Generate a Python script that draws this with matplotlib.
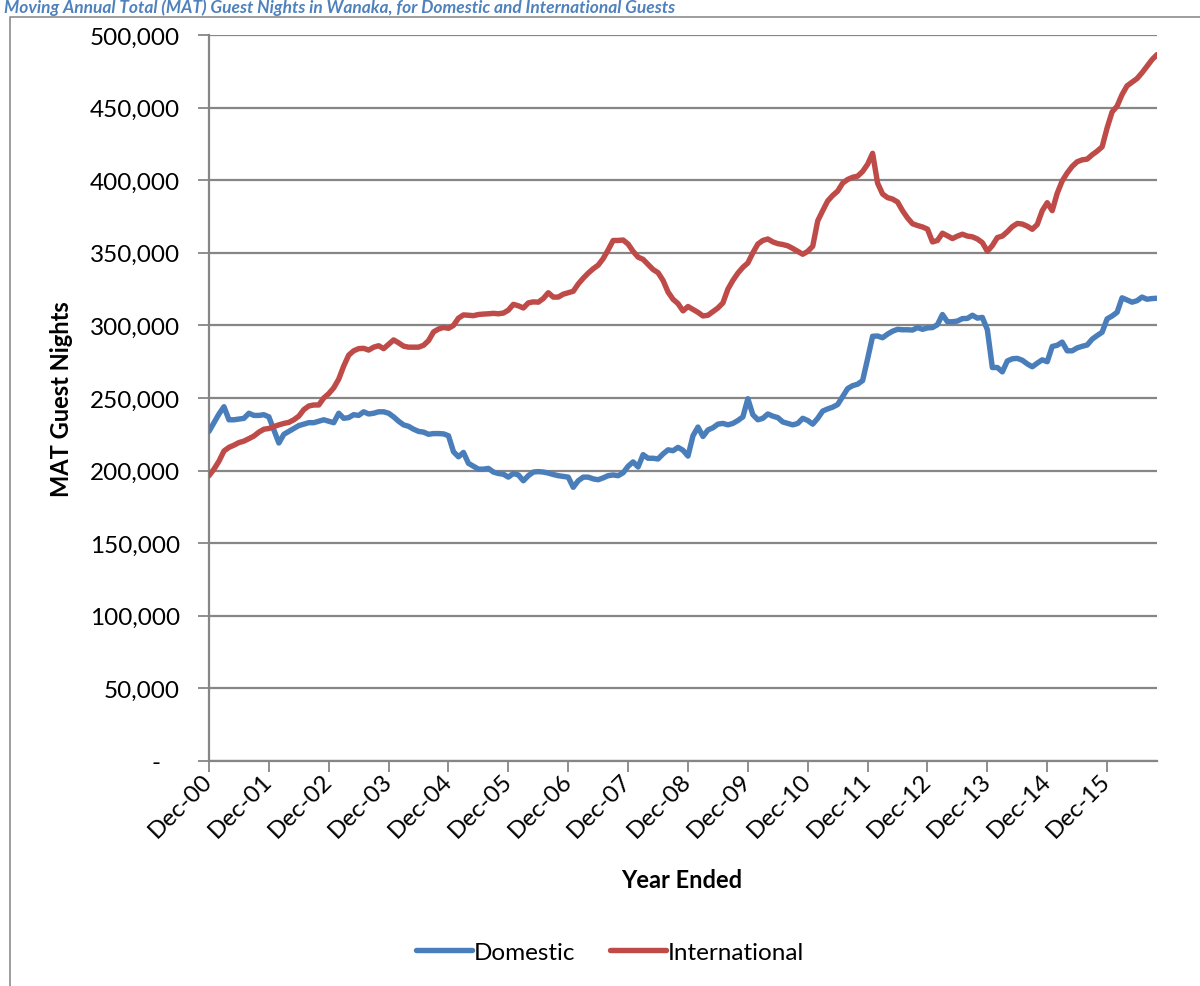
import matplotlib
matplotlib.use("Agg")
import matplotlib.pyplot as plt
import matplotlib.transforms as mtransforms
from matplotlib.lines import Line2D
from matplotlib.ticker import FuncFormatter
import numpy as np
import pandas as pd

# Monthly year-ended periods, Dec 2000 to Oct 2016
months = pd.date_range("2000-12-01", periods=191, freq="MS")

domestic = [
    227000, 233000, 239000, 244000, 235000, 235000, 235500, 236000, 239500, 238000, 238000, 238500,
    237000, 228000, 219000, 225000, 227000, 229000, 231000, 232000, 233000, 233000, 234000, 235000,
    234000, 233000, 239500, 236000, 236500, 238500, 238000, 240500, 239000, 239500, 240500, 240500,
    239500, 237000, 234000, 231500, 230500, 228500, 227000, 226500, 225000, 225500, 225500, 225300,
    224000, 213000, 209500, 212500, 205000, 203000, 201000, 201000, 201500, 199000, 198000, 197500,
    195500, 198000, 197000, 193000, 196500, 199000, 199300, 199000, 198300, 197300, 196500, 196000,
    195500, 188500, 193000, 195500, 195500, 194300, 193700, 195000, 196500, 197000, 196500, 198500,
    203000, 206000, 202500, 211000, 208500, 208500, 208000, 211500, 214300, 213700, 216000, 214000,
    210000, 224000, 230000, 223500, 228000, 229500, 232000, 232500, 231500, 232500, 234500, 237000,
    249500, 238500, 235000, 236000, 239000, 237500, 236500, 233500, 232500, 231500, 232500, 236000,
    234500, 232000, 236000, 241000, 242500, 243700, 245500, 251000, 256500, 258500, 259500, 262000,
    277000, 292500, 292700, 291500, 294000, 296000, 297300, 297000, 297000, 296800, 298500, 297300,
    298300, 298500, 300500, 307500, 302500, 302500, 303000, 304700, 304800, 307000, 305000, 305500,
    297000, 271000, 271000, 268000, 275500, 277000, 277300, 276000, 273500, 271500, 274000, 276300,
    275000, 285500, 286300, 288500, 282500, 282500, 284500, 285600, 286500, 290500, 293000, 295300,
    304500, 306500, 309000, 319000, 317500, 316000, 317000, 319500, 318000, 318500, 318700,
]

international = [
    196500, 201000, 206500, 213500, 216000, 217500, 219300, 220300, 222000, 223800, 226500, 228500,
    229000, 230300, 231500, 232500, 233200, 235000, 237500, 242000, 244500, 245200, 245200, 250000,
    253000, 257000, 263000, 272000, 279500, 282500, 284000, 284200, 283000, 285000, 286000, 284000,
    287000, 290000, 288000, 285700, 285000, 285000, 285000, 286300, 289500, 295500, 297500, 298600,
    298000, 300000, 305000, 307200, 307000, 306700, 307500, 307800, 308000, 308300, 308000, 308500,
    310500, 314500, 313500, 312000, 315500, 316200, 316000, 318500, 322500, 319500, 319500, 321500,
    322500, 323500, 328500, 332500, 336000, 339000, 341500, 346000, 352000, 358500, 358500, 358800,
    356000, 351000, 347000, 345500, 342000, 338500, 336300, 331000, 323000, 318000, 315000, 310000,
    313000, 311000, 309000, 306500, 307000, 309500, 312000, 315500, 325000, 331000, 336000, 340000,
    343000, 350000, 356000, 358500, 359500, 357500, 356300, 355700, 354800, 353000, 351000, 349000,
    351000, 354500, 372000, 379000, 385700, 389500, 392500, 398000, 400500, 402000, 402800, 406000,
    411000, 418500, 398000, 390500, 388000, 387000, 385000, 379000, 374000, 370000, 368800, 367800,
    366300, 357500, 358500, 363500, 361700, 359800, 361500, 362800, 361500, 361000, 359500, 357000,
    351000, 355000, 360500, 361500, 364500, 368000, 370200, 369800, 368300, 366200, 369500, 379000,
    384500, 379000, 391000, 399500, 405000, 409500, 412700, 414000, 414500, 417500, 420000, 423000,
    436000, 447000, 451000, 459000, 465000, 467500, 470000, 474000, 478500, 483000, 486500,
]

tick_labels = ["Dec-00", "Dec-01", "Dec-02", "Dec-03", "Dec-04", "Dec-05", "Dec-06", "Dec-07",
               "Dec-08", "Dec-09", "Dec-10", "Dec-11", "Dec-12", "Dec-13", "Dec-14", "Dec-15"]
y_ticks = [0, 50000, 100000, 150000, 200000, 250000, 300000, 350000, 400000, 450000, 500000]

plt.rcParams['font.family'] = ['Lato', 'DejaVu Sans']

W, H = 1200, 987
fig = plt.figure(figsize=(W / 100, H / 100), dpi=100)
ax = fig.add_axes([209 / W, 1 - 762 / H, (1157 - 209) / W, (762 - 36) / H])

grey = '#868686'
x = np.arange(len(months))
ax.plot(x, domestic, color='#4A7EBB', lw=3.9, label='Domestic',
        solid_joinstyle='round', solid_capstyle='round', zorder=3)
ax.plot(x, international, color='#BE4B48', lw=3.9, label='International',
        solid_joinstyle='round', solid_capstyle='round', zorder=3)

ax.set_xlim(0, len(months) - 1)
ax.set_ylim(0, 500000)
ax.set_yticks(y_ticks)
ax.yaxis.set_major_formatter(FuncFormatter(lambda v, p: '-   ' if v == 0 else f'{v:,.0f}'))

tick_pos = [months.get_loc(pd.Timestamp(f"{2000 + k}-12-01")) for k in range(len(tick_labels))]
ax.set_xticks(tick_pos)
ax.set_xticklabels(tick_labels, rotation=45, ha='right', va='center', rotation_mode='anchor')
offset = mtransforms.ScaledTranslation(14 / 100, -10 / 100, fig.dpi_scale_trans)
for lab in ax.get_xticklabels():
    lab.set_transform(lab.get_transform() + offset)

ax.grid(axis='y', color=grey, lw=1.6)
ax.grid(axis='x', visible=False)
ax.set_axisbelow(True)
for side in ('top', 'right'):
    ax.spines[side].set_visible(False)
for side in ('left', 'bottom'):
    ax.spines[side].set_color(grey)
    ax.spines[side].set_linewidth(1.6)
ax.tick_params(axis='both', direction='out', length=8, width=1.3, color=grey,
               labelsize=17.5, labelcolor='black')
ax.tick_params(axis='y', pad=13)

ax.set_ylabel('MAT Guest Nights', fontsize=17, fontweight='bold')
ax.yaxis.set_label_coords((73 - 209) / 948, 0.5)
ax.set_xlabel('Year Ended', fontsize=17, fontweight='bold')
ax.xaxis.set_label_coords(0.499, (762 - 869) / 726)

fig.legend(loc='center', bbox_to_anchor=(610 / W, 1 - 953 / H), ncol=2, frameon=False,
           fontsize=17.5, handlelength=2.3, handletextpad=0.1, columnspacing=1.4)

# chart frame
fig.add_artist(Line2D([10 / W, 10 / W, 1], [0, 1 - 18 / H, 1 - 18 / H],
                      transform=fig.transFigure, color='#8c8c8c', lw=1.2))

fig.text(4 / W, 1 - 8 / H,
         'Moving Annual Total (MAT) Guest Nights in Wanaka, for Domestic and International Guests',
         fontsize=12.5, fontweight='bold', fontstyle='italic', color='#4F81BD',
         ha='left', va='center')

fig.savefig('out.png', dpi=100)
